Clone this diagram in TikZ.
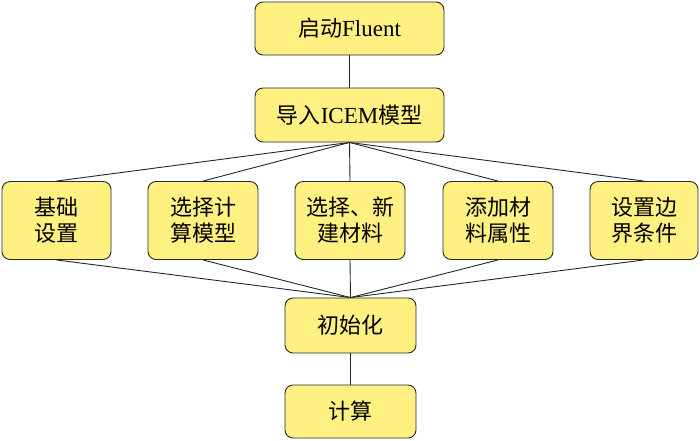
\documentclass[tikz,border=0pt]{standalone}
\usepackage{fontspec}
\setmainfont{Liberation Serif}
\newfontfamily\cjk{Noto Sans CJK SC}
\definecolor{boxfill}{RGB}{255,240,130}
\definecolor{boxline}{RGB}{40,40,40}
\begin{document}
\begin{tikzpicture}[x=1pt,y=-1pt,
  stepbox/.style={draw=boxline,line width=0.9pt,fill=boxfill,rounded corners=8pt,
    align=center,inner sep=0pt,font=\fontsize{22}{26}\selectfont},
  link/.style={draw=black!85,line width=0.9pt}]
\useasboundingbox (0,0) rectangle (700,440);
\node[stepbox,minimum width=189pt,minimum height=53pt] (start) at (349.5,28.5) {{\cjk 启动}{\fontsize{23}{26}\selectfont Fluent}};
\node[stepbox,minimum width=189pt,minimum height=54pt] (icem) at (349.5,115) {{\cjk 导入}{\fontsize{23}{26}\selectfont ICEM}{\cjk 模型}};
\node[stepbox,minimum width=109pt,minimum height=78pt] (b1) at (56.5,220.5) {\cjk 基础\\\cjk 设置};
\node[stepbox,minimum width=110pt,minimum height=78pt] (b2) at (203,220.5) {\cjk 选择计\\\cjk 算模型};
\node[stepbox,minimum width=110pt,minimum height=78pt] (b3) at (350,220.5) {\cjk 选择、新\\\cjk 建材料};
\node[stepbox,minimum width=110pt,minimum height=78pt] (b4) at (498,220.5) {\cjk 添加材\\\cjk 料属性};
\node[stepbox,minimum width=108pt,minimum height=78pt] (b5) at (644,220.5) {\cjk 设置边\\\cjk 界条件};
\node[stepbox,minimum width=131pt,minimum height=55pt] (init) at (350.5,325.5) {\cjk 初始化};
\node[stepbox,minimum width=131pt,minimum height=53pt] (calc) at (350.5,411.5) {\cjk 计算};
\draw[link] (start.south) -- (icem.north);
\foreach \b in {b1,b2,b3,b4,b5}{
  \draw[link] (icem.south) -- (\b.north);
  \draw[link] (\b.south) -- (init.north);
}
\draw[link] (init.south) -- (calc.north);
\end{tikzpicture}
\end{document}
